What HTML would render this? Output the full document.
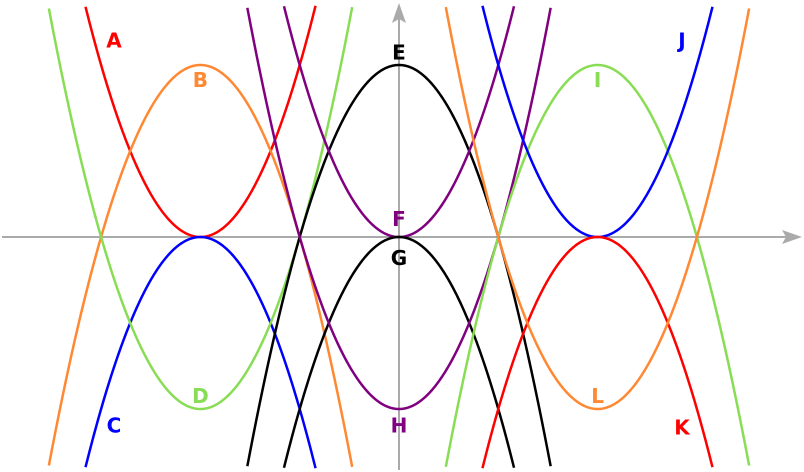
<!DOCTYPE html>
<html><head><meta charset="utf-8"><style>
html,body{margin:0;padding:0;background:#fff;overflow:hidden;width:804px;height:472px;}
svg{display:block;}
text{font-family:"DejaVu Sans","Liberation Sans",sans-serif;font-weight:bold;font-size:20px;text-anchor:middle;}
</style></head><body>
<svg id="chart" width="804" height="472" viewBox="0 0 804 472">
<g id="axes">
<line x1="2" y1="237" x2="792" y2="237" stroke="#aaa" stroke-width="2"/>
<polygon points="802,237 782,230 786,237 782,244" fill="#aaa"/>
<line x1="399" y1="470" x2="399" y2="14" stroke="#aaa" stroke-width="2"/>
<polygon points="399,3 392,23 399,19 406,23" fill="#aaa"/>
</g>
<g id="curves"></g>
<g id="labels"></g>
</svg>
<script>
const names = ["A","B","C","D","E","F","G","H","I","J","K","L"];
const centers = [-2,-2,-2,-2,0,0,0,0,2,2,2,2];
const signs = [1,-1,-1,1,-1,1,-1,1,-1,1,-1,1];
const offsets = [0,1,0,1,1,0,0,1,1,0,0,1];
const colors = ["#ff0000","#ff8833","#0000ff","#88dd55","#000000","#800080","#000000","#800080","#88dd55","#0000ff","#ff0000","#ff8833"];
const labelX = [-2.87,-2,-2.87,-2,0,0,0,0,2,2.85,2.85,2];
const labelY = [1.98,1.58,-1.9,-1.6,1.86,0.18,-0.21,-1.9,1.58,1.98,-1.92,-1.6];
const k = Math.sqrt(3);
const U = 99.3, X0 = 399, Y0 = 237;
function sx(x){return X0 + x*U;}
function sy(y){return Y0 - y*U;}
const NS="http://www.w3.org/2000/svg";
const cg=document.getElementById('curves'), lg=document.getElementById('labels');
for(let i=0;i<names.length;i++){
  let d="", pen=false;
  for(let j=0;j<=800;j++){
    const x=-4.1+8.2*j/800;
    const y=signs[i]*k*(Math.pow(x-centers[i],2)-offsets[i]);
    const px=sx(x), py=sy(y);
    if(py<5||py>470||px<0||px>804){pen=false;continue;}
    d+=(pen?"L":"M")+px.toFixed(2)+","+py.toFixed(2);
    pen=true;
  }
  const p=document.createElementNS(NS,'path');
  p.setAttribute('d',d);p.setAttribute('fill','none');p.setAttribute('stroke',colors[i]);p.setAttribute('stroke-width','2.5');
  
  
  cg.appendChild(p);
  const t=document.createElementNS(NS,'text');
  t.setAttribute('x',sx(labelX[i]));t.setAttribute('y',sy(labelY[i])+7);t.setAttribute('fill',colors[i]);
  t.textContent=names[i];
  
  
  lg.appendChild(t);
}
</script>
</body></html>
